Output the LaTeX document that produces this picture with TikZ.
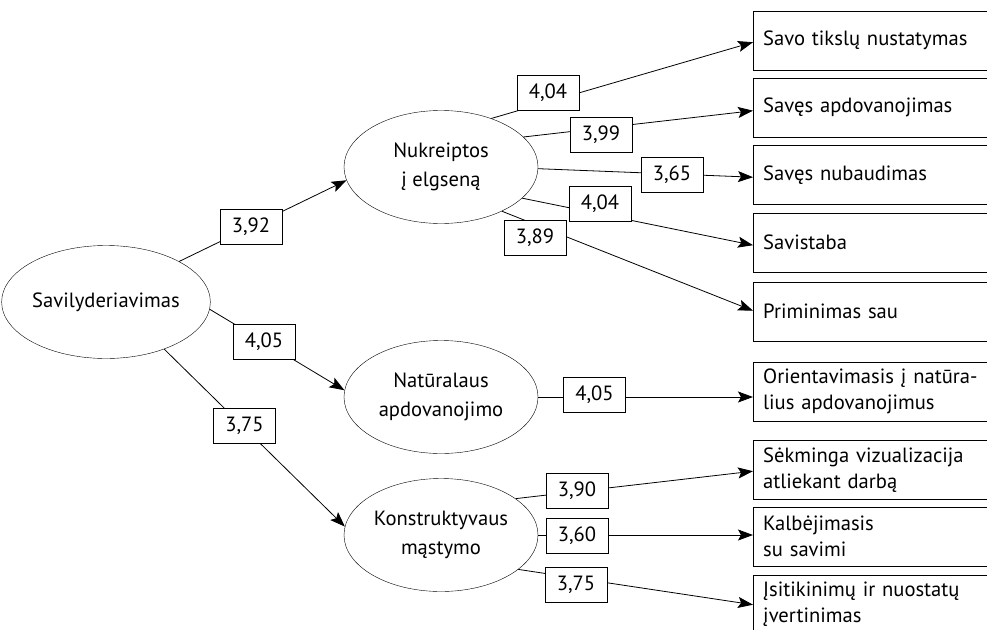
\documentclass[tikz,border=0pt]{standalone}
\usepackage{fontspec}
\setmainfont{PT Sans}
\usetikzlibrary{shapes.geometric,arrows.meta}
\begin{document}
\begin{tikzpicture}[x=1pt,y=-1pt,
 every node/.style={font=\fontsize{20.6}{26}\selectfont},
 oval/.style={draw, ellipse, minimum width=194pt, minimum height=113pt, inner sep=0pt, align=center, font=\fontsize{20.6}{29}\selectfont},
 item/.style={draw, rectangle, anchor=north west, minimum width=260pt, minimum height=59pt, text width=240pt, inner xsep=10pt, inner ysep=0pt, align=left},
 val/.style={draw, fill=white, minimum width=62pt, minimum height=35pt, inner sep=0pt},
 arr/.style={line width=0.8pt, -{Stealth[length=15pt,width=11pt,inset=3pt]}}]
\clip (0,0) rectangle (987,629);
\fill[white] (0,0) rectangle (987,629);
% ovals
\node[oval] (sav) at (106,302) {Savilyderiavimas};
\node[oval] (nuk) at (441,167) {Nukreiptos\\į elgseną};
\node[oval] (nat) at (441,397) {Natūralaus\\apdovanojimo};
\node[oval] (kon) at (441,535) {Konstruktyvaus\\mąstymo};
% boxes
\node[item] (b1) at (753,11) {Savo tikslų nustatymas};
\node[item] (b2) at (753,78) {Savęs apdovanojimas};
\node[item] (b3) at (753,145) {Savęs nubaudimas};
\node[item] (b4) at (753,213) {Savistaba};
\node[item] (b5) at (753,282) {Priminimas sau};
\node[item] (b6) at (753,362) {Orientavimasis į natūra-\\lius apdovanojimus};
\node[item] (b7) at (753,440) {Sėkminga vizualizacija\\atliekant darbą};
\node[item] (b8) at (753,507) {Kalbėjimasis\\su savimi};
\node[item] (b9) at (753,575) {Įsitikinimų ir nuostatų\\įvertinimas};
% connectors
\draw[arr] (sav.29) -- (nuk.188);
\draw[arr] (sav.-4) -- (nat.176.5);
\draw[arr] (sav.-39) -- (kon.175);
\draw[arr] (nuk.44) -- ([yshift=-1.5pt]b1.west);
\draw[arr] (nuk.20) -- ([yshift=-3pt]b2.west);
\draw[arr] (nuk.-1) -- ([yshift=-2.5pt]b3.west);
\draw[arr] (nuk.-21) -- ([yshift=-2.5pt]b4.west);
\draw[arr] (nuk.-36) -- ([yshift=1pt]b5.west);
\draw[arr] (nat.east) -- (nat.east -| b6.west);
\draw[arr] (kon.26) -- ([yshift=-1.5pt]b7.west);
\draw[arr] (kon.east) -- (kon.east -| b8.west);
\draw[arr] (kon.-24) -- (b9.west);
% values
\node[val] (v1) at (251,226.5) {3,92};
\node[val] (v2) at (264,342) {4,05};
\node[val] (v3) at (244.5,425.5) {3,75};
\node[val] (v4) at (548,92.5) {4,04};
\node[val] (v5) at (601,135) {3,99};
\node[val] (v6) at (672,175) {3,65};
\node[val] (v7) at (600,204) {4,04};
\node[val] (v8) at (535,237.5) {3,89};
\node[val] (v9) at (594.5,395) {4,05};
\node[val] (v10) at (577,490.5) {3,90};
\node[val] (v11) at (577,535.5) {3,60};
\node[val] (v12) at (576,584.5) {3,75};
\end{tikzpicture}
\end{document}
